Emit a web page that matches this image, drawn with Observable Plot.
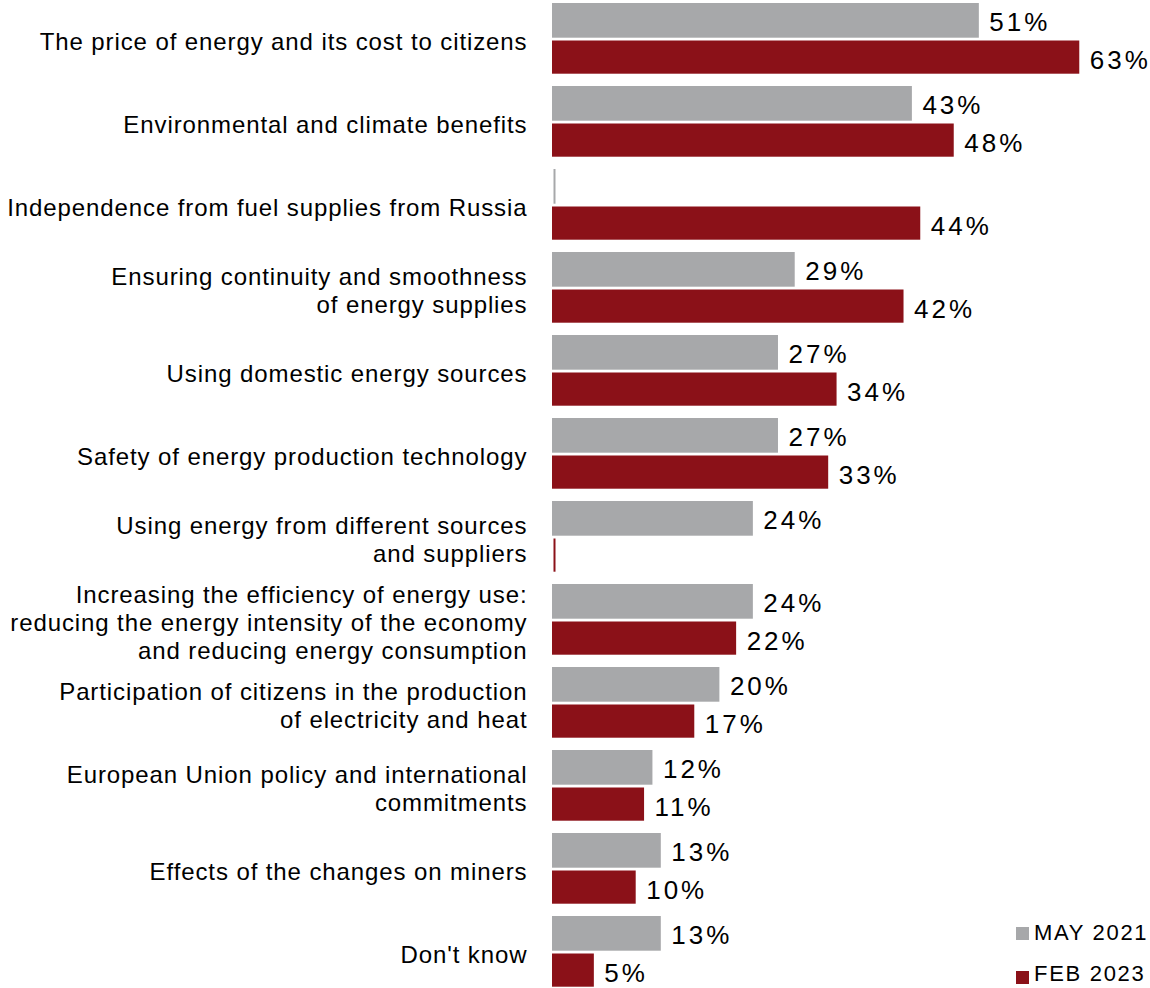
<!DOCTYPE html>
<html>
<head>
<meta charset="utf-8">
<script src="https://cdn.jsdelivr.net/npm/d3@7"></script>
<script src="https://cdn.jsdelivr.net/npm/@observablehq/plot@0.6"></script>
<style>
  html, body { margin: 0; padding: 0; background: #ffffff; }
  body { font-family: "Liberation Sans", Arial, sans-serif; }
  #wrap { position: relative; width: 1150px; height: 988px; overflow: hidden; }
  #wrap svg g[font-size="26"] text { letter-spacing: 3px; }
  #wrap svg g[font-size="24"] text { letter-spacing: 0.9px; }
  .legend { position: absolute; left: 1016px; height: 18px; line-height: 18px; font-size: 22px;
            letter-spacing: 1.7px; color: #000; white-space: nowrap; }
  .legend .sw { position: absolute; left: 0; width: 13px; height: 13px; }
  .legend .lbl { position: absolute; left: 18px; top: 0; }
</style>
</head>
<body>
<div id="wrap"></div>
<script>
const categories = [
  "The price of energy and its cost to citizens",
  "Environmental and climate benefits",
  "Independence from fuel supplies from Russia",
  "Ensuring continuity and smoothness\nof energy supplies",
  "Using domestic energy sources",
  "Safety of energy production technology",
  "Using energy from different sources\nand suppliers",
  "Increasing the efficiency of energy use:\nreducing the energy intensity of the economy\nand reducing energy consumption",
  "Participation of citizens in the production\nof electricity and heat",
  "European Union policy and international\ncommitments",
  "Effects of the changes on miners",
  "Don't know"
];
const may2021 = [51, 43, 0, 29, 27, 27, 24, 24, 20, 12, 13, 13];
const feb2023 = [63, 48, 44, 42, 34, 33, 0, 22, 17, 11, 10, 5];
const seriesNames = ["MAY 2021", "FEB 2023"];
const seriesColors = ["#a7a8aa", "#8b1118"];

const rowsMay = categories.map((c, i) => ({category: c, value: may2021[i]}));
const rowsFeb = categories.map((c, i) => ({category: c, value: feb2023[i]}));

const greyInset = {insetTop: 0, insetBottom: 48.3};
const redInset = {insetTop: 37.5, insetBottom: 12.3};

const chart = Plot.plot({
  width: 1150,
  height: 988,
  marginLeft: 552,
  marginRight: 0,
  marginTop: 0,
  marginBottom: 0,
  style: {fontFamily: "'Liberation Sans', Arial, sans-serif", background: "#ffffff", color: "#000"},
  x: {axis: null, domain: [0, 71.45]},
  y: {axis: null, domain: categories, range: [1, 1001.1], padding: 0},
  marks: [
    Plot.barX(rowsMay.filter(d => d.value > 0), {x: "value", y: "category", fill: seriesColors[0], ...greyInset}),
    Plot.barX(rowsFeb.filter(d => d.value > 0), {x: "value", y: "category", fill: seriesColors[1], ...redInset}),
    Plot.tickX(rowsMay.filter(d => d.value === 0), {x: "value", y: "category", stroke: seriesColors[0], strokeWidth: 2, dx: 2, ...greyInset}),
    Plot.tickX(rowsFeb.filter(d => d.value === 0), {x: "value", y: "category", stroke: seriesColors[1], strokeWidth: 2, dx: 2, ...redInset}),
    Plot.text(rowsMay.filter(d => d.value > 0), {x: "value", y: "category", text: d => d.value + "%", textAnchor: "start", dx: 10, dy: -22.5, fontSize: 26, fill: "#000"}),
    Plot.text(rowsFeb.filter(d => d.value > 0), {x: "value", y: "category", text: d => d.value + "%", textAnchor: "start", dx: 10, dy: 15.5, fontSize: 26, fill: "#000"}),
    Plot.text(categories, {y: d => d, text: d => d, frameAnchor: "left", textAnchor: "end", dx: -25, dy: -4, fontSize: 24, lineHeight: 28 / 24, fill: "#000"})
  ]
});

const wrap = document.getElementById("wrap");
wrap.appendChild(chart);

const legendTops = [924.4, 964.6];
const swatchOffsets = [2.6, 6.6];
seriesNames.forEach((name, i) => {
  const item = document.createElement("div");
  item.className = "legend";
  item.style.top = legendTops[i] + "px";
  const sw = document.createElement("span");
  sw.className = "sw";
  sw.style.background = seriesColors[i];
  sw.style.top = swatchOffsets[i] + "px";
  const lbl = document.createElement("span");
  lbl.className = "lbl";
  lbl.textContent = name;
  item.appendChild(sw);
  item.appendChild(lbl);
  wrap.appendChild(item);
});
</script>
</body>
</html>
